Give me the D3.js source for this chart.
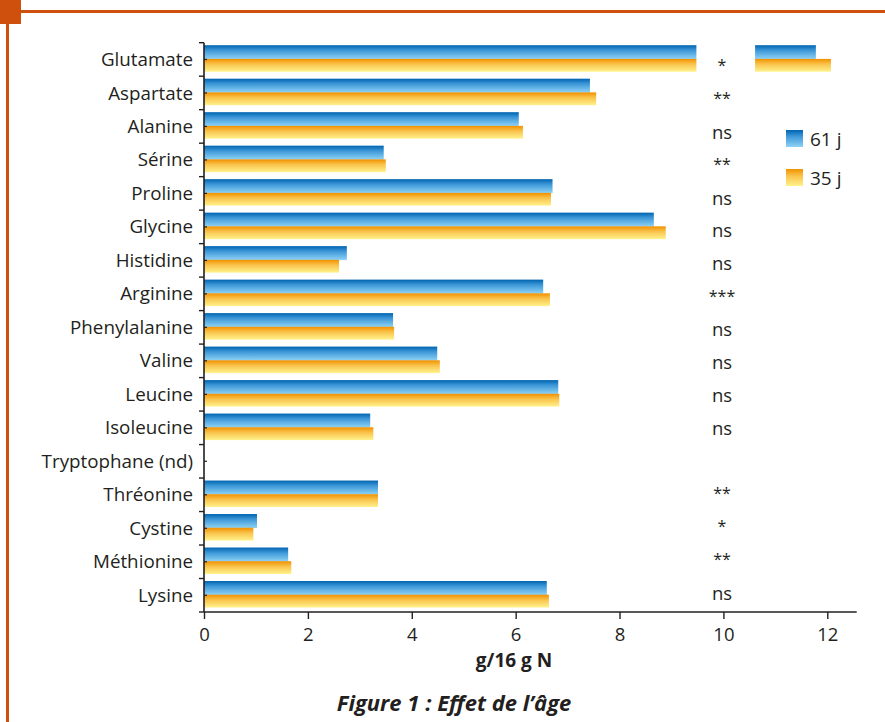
<!DOCTYPE html>
<html>
<head>
<meta charset="utf-8">
<script src="https://cdn.jsdelivr.net/npm/d3@7"></script>
<style>
  html, body { margin: 0; padding: 0; background: #fff; }
  svg { display: block; }
  text { font-family: "Open Sans", "Noto Sans", sans-serif; fill: #231f20; }
</style>
</head>
<body>
<div id="chart"></div>
<script>
// ---- data ----
const categories = ["Glutamate","Aspartate","Alanine","Sérine","Proline","Glycine","Histidine","Arginine",
  "Phenylalanine","Valine","Leucine","Isoleucine","Tryptophane (nd)","Thréonine","Cystine","Méthionine","Lysine"];
const values61 = [11.78, 7.43, 6.06, 3.46, 6.71, 8.66, 2.75, 6.53, 3.64, 4.49, 6.82, 3.20, null, 3.35, 1.02, 1.62, 6.60];
const values35 = [12.07, 7.55, 6.14, 3.50, 6.68, 8.89, 2.60, 6.66, 3.66, 4.54, 6.84, 3.26, null, 3.35, 0.95, 1.68, 6.64];
const significance = ["*","**","ns","**","ns","ns","ns","***","ns","ns","ns","ns","","**","*","**","ns"];
const seriesNames = ["61 j", "35 j"];
const xTicks = [0, 2, 4, 6, 8, 10, 12];
const axisBreak = [9.48, 10.61]; // visual break drawn in the Glutamate bars
const xTitle = "g/16 g N";
const figTitle = "Figure 1 : Effet de l’âge";

// ---- layout ----
const W = 885, H = 722;
const svg = d3.select("#chart").append("svg").attr("width", W).attr("height", H);

const defs = svg.append("defs");
const gBlue = defs.append("linearGradient").attr("id","gBlue").attr("x1",0).attr("y1",0).attr("x2",0).attr("y2",1);
gBlue.append("stop").attr("offset","0%").attr("stop-color","#0064b0");
gBlue.append("stop").attr("offset","35%").attr("stop-color","#3a95d6");
gBlue.append("stop").attr("offset","100%").attr("stop-color","#8fd3f6");
const gOrange = defs.append("linearGradient").attr("id","gOrange").attr("x1",0).attr("y1",0).attr("x2",0).attr("y2",1);
gOrange.append("stop").attr("offset","0%").attr("stop-color","#f29100");
gOrange.append("stop").attr("offset","40%").attr("stop-color","#f9c24a");
gOrange.append("stop").attr("offset","100%").attr("stop-color","#fff28c");
const fills = ["url(#gBlue)", "url(#gOrange)"];

// frame decoration
const frameColor = "#cf4f0c";
svg.append("rect").attr("x",0).attr("y",0).attr("width",21).attr("height",24).attr("fill",frameColor);
svg.append("rect").attr("x",18).attr("y",10).attr("width",W-18).attr("height",3).attr("fill",frameColor);
svg.append("rect").attr("x",6).attr("y",20).attr("width",3).attr("height",H-20).attr("fill",frameColor);

const x = d3.scaleLinear().domain([0, 12]).range([204, 827.3]);
const y = d3.scaleBand().domain(categories).range([42.7, 612]).paddingInner(0).paddingOuter(0);
const bw = y.bandwidth();
const sigY = d3.scalePoint().domain(categories).range([65, 592]);

const rows = categories.map((c, i) => ({cat: c, v: [values61[i], values35[i]], sig: significance[i]}));

// bars
const barG = svg.append("g");
rows.forEach(r => {
  [0, 1].forEach(s => {
    const v = r.v[s];
    if (v == null) return;
    const yTop = y(r.cat) + (s === 0 ? 2.5 : 16.2);
    const h = s === 0 ? 14 : 12.8;
    barG.append("rect")
      .attr("x", x(0)).attr("y", yTop)
      .attr("width", x(v) - x(0)).attr("height", h)
      .attr("fill", fills[s]);
  });
});
// break gap in the longest bars
barG.append("rect")
  .attr("x", x(axisBreak[0])).attr("y", y(categories[0]))
  .attr("width", x(axisBreak[1]) - x(axisBreak[0])).attr("height", bw - 1)
  .attr("fill", "#fff");

// y axis
const axisColor = "#231f20";
const yAxisG = svg.append("g");
yAxisG.append("line").attr("x1", x(0)).attr("x2", x(0)).attr("y1", y.range()[0]).attr("y2", y.range()[1])
  .attr("stroke", axisColor).attr("stroke-width", 1.6);
const boundaries = categories.map(c => y(c)).concat([y.range()[1]]);
boundaries.forEach(b => {
  yAxisG.append("line").attr("x1", x(0) - 5).attr("x2", x(0)).attr("y1", b).attr("y2", b)
    .attr("stroke", axisColor).attr("stroke-width", 1.4);
});
categories.forEach(c => {
  yAxisG.append("line").attr("x1", x(0)).attr("x2", x(0) + 3).attr("y1", y(c) + bw / 2).attr("y2", y(c) + bw / 2)
    .attr("stroke", axisColor).attr("stroke-width", 1.2);
  yAxisG.append("text").attr("x", 193).attr("y", y(c) + bw / 2).attr("dy", "0.35em")
    .attr("text-anchor", "end").attr("font-size", 18.8).text(c);
});

// x axis
const xAxisG = svg.append("g").attr("transform", `translate(0,${y.range()[1]})`)
  .call(d3.axisBottom(x).tickValues(xTicks).tickSize(7).tickPadding(9).tickSizeOuter(0).tickFormat(d3.format("d")));
xAxisG.select(".domain").attr("stroke", axisColor).attr("stroke-width", 1.6).attr("d", `M${x(0)},0H856.7`);
xAxisG.selectAll(".tick line").attr("stroke", axisColor).attr("stroke-width", 1.4);
xAxisG.selectAll(".tick text").attr("font-size", 18.5).attr("fill", axisColor)
  .style("font-family", '"Open Sans", sans-serif');

svg.append("text").attr("x", 514).attr("y", 667).attr("text-anchor", "middle")
  .attr("font-size", 19).attr("font-weight", "bold").text(xTitle);

svg.append("text").attr("x", 454).attr("y", 711).attr("text-anchor", "middle")
  .attr("font-size", 22).attr("font-weight", "bold").attr("font-style", "italic").text(figTitle);

// significance column
rows.forEach(r => {
  if (!r.sig) return;
  const isStar = r.sig.indexOf("*") >= 0;
  svg.append("text").attr("x", 722).attr("y", sigY(r.cat))
    .attr("dy", isStar ? "0.38em" : "0.42em")
    .attr("text-anchor", "middle").attr("font-size", isStar ? 16 : 18.5)
    .attr("fill", isStar ? "#444" : "#231f20")
    .text(r.sig);
});

// legend
const legend = svg.append("g");
seriesNames.forEach((n, i) => {
  const ly = 130 + i * 39;
  legend.append("rect").attr("x", 786).attr("y", ly).attr("width", 17).attr("height", 17).attr("fill", fills[i]);
  legend.append("text").attr("x", 810).attr("y", ly + 8.5).attr("dy", "0.37em").attr("font-size", 19).text(n);
});
</script>
</body>
</html>
